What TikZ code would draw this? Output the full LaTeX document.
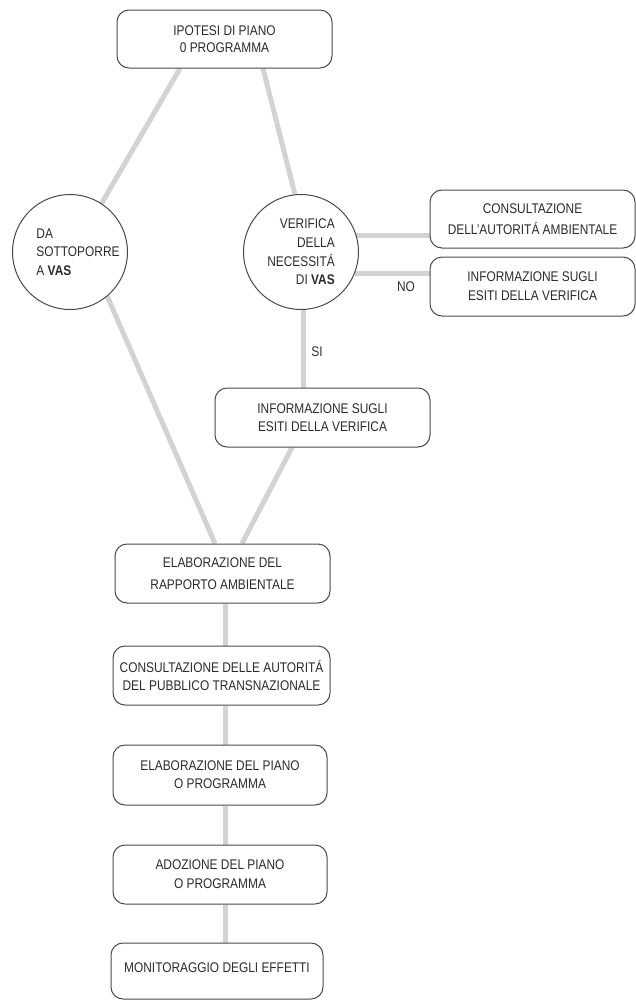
\documentclass[tikz,border=0pt]{standalone}
\usepackage{fontspec}
\setmainfont{Liberation Sans}[FakeStretch=0.85]
\usetikzlibrary{backgrounds}
\definecolor{linkgrey}{HTML}{D3D3D3}
\definecolor{boxedge}{HTML}{4A4A4A}
\definecolor{ink}{HTML}{2B2B2B}
\newcommand\boxfont[1]{\fontsize{14}{#1}\selectfont}
\begin{document}
\begin{tikzpicture}[x=1pt,y=-1pt,
  conn/.style={draw=linkgrey, line width=5pt},
  stepbox/.style={draw=boxedge, line width=1pt, rounded corners=12pt, fill=white,
    align=center, inner sep=0pt, text=ink, font=\boxfont{18}},
  decision/.style={draw=boxedge, line width=1pt, circle, fill=white, inner sep=0pt,
    minimum size=115pt, text=ink, font=\boxfont{18.6}},
  lbl/.style={text=ink, font=\boxfont{18}, inner sep=0pt}]
\useasboundingbox (0,0) rectangle (636,1001);

% process boxes
\node[stepbox, minimum width=215pt, minimum height=58pt, font=\boxfont{17}] (ipotesi) at (224.5,39) {IPOTESI DI PIANO\\0 PROGRAMMA};
\node[decision, align=left] (sottoporre) at (70,252) {\hspace*{16pt}DA\\\hspace*{16pt}SOTTOPORRE\\\hspace*{16pt}A \textbf{VAS}};
\node[decision, align=right] (verifica) at (301,252) {VERIFICA\\DELLA\\NECESSITÁ\\DI \textbf{VAS}};
\node[stepbox, minimum width=205pt, minimum height=58pt, font=\boxfont{21.5}] (consamb) at (532.5,219) {CONSULTAZIONE\\DELL’AUTORITÁ AMBIENTALE};
\node[stepbox, minimum width=205pt, minimum height=59pt, font=\boxfont{19.3}] (infono) at (532.5,286.5) {INFORMAZIONE SUGLI\\ESITI DELLA VERIFICA};
\node[stepbox, minimum width=215pt, minimum height=59pt] (infosi) at (322.5,417.5) {INFORMAZIONE SUGLI\\ESITI DELLA VERIFICA};
\node[stepbox, minimum width=215pt, minimum height=59pt, font=\boxfont{21.5}] (rapporto) at (222.5,573.5) {ELABORAZIONE DEL\\RAPPORTO AMBIENTALE};
\node[stepbox, minimum width=217pt, minimum height=59pt, font=\boxfont{17.5}] (transnaz) at (221.5,675.5) {CONSULTAZIONE DELLE AUTORITÁ\\DEL PUBBLICO TRANSNAZIONALE};
\node[stepbox, minimum width=214pt, minimum height=60pt] (piano) at (220,775) {ELABORAZIONE DEL PIANO\\O PROGRAMMA};
\node[stepbox, minimum width=214pt, minimum height=59pt, font=\boxfont{19}] (adozione) at (220,874.5) {ADOZIONE DEL PIANO\\O PROGRAMMA};
\node[stepbox, minimum width=212pt, text height=29pt, text depth=27pt, anchor=base] (monitor) at (217,972) {MONITORAGGIO DEGLI EFFETTI};

% branch labels
\node[lbl] (si) at (317,352) {SI};
\node[lbl] (no) at (406,287) {NO};

% connectors behind the boxes
\begin{scope}[on background layer]
  \draw[conn] ([xshift=-44.5pt]ipotesi.south) -- (sottoporre.57);
  \draw[conn] ([xshift=38.5pt]ipotesi.south) -- (verifica.96);
  \draw[conn] (verifica.17) -- (verifica.17 -| consamb.west);
  \draw[conn] (verifica.-22) -- (verifica.-22 -| infono.west);
  \draw[conn] ([xshift=2pt]verifica.south) -- ([xshift=2pt]verifica.south |- infosi.north);
  \draw[conn] (sottoporre.-50) -- ([xshift=-7.5pt]rapporto.north);
  \draw[conn] ([xshift=-30.5pt]infosi.south) -- ([xshift=19.5pt]rapporto.north);
  \draw[conn] ([xshift=2.5pt]rapporto.south) -- ([xshift=2.5pt]rapporto.south |- transnaz.north);
  \draw[conn] ([xshift=3.5pt]transnaz.south) -- ([xshift=3.5pt]transnaz.south |- piano.north);
  \draw[conn] ([xshift=5pt]piano.south) -- ([xshift=5pt]piano.south |- adozione.north);
  \draw[conn] ([xshift=5pt]adozione.south) -- ([xshift=5pt]adozione.south |- monitor.north);
\end{scope}
\end{tikzpicture}
\end{document}
